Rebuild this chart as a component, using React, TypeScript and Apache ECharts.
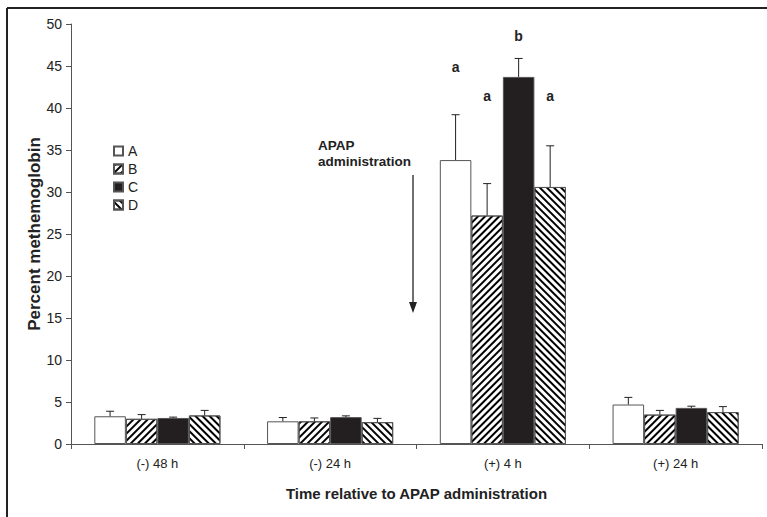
import React, { useEffect, useRef } from 'react';
import * as echarts from 'echarts';

const categories = ['(-) 48 h', '(-) 24 h', '(+) 4 h', '(+) 24 h'];
const seriesNames = ['A', 'B', 'C', 'D'];
const valuesA = [3.3, 2.7, 33.8, 4.7];
const valuesB = [3.0, 2.7, 27.2, 3.5];
const valuesC = [3.1, 3.2, 43.7, 4.3];
const valuesD = [3.4, 2.6, 30.6, 3.8];
const errA = [0.6, 0.45, 5.4, 0.85];
const errB = [0.5, 0.4, 3.8, 0.5];
const errC = [0.1, 0.15, 2.2, 0.2];
const errD = [0.6, 0.45, 4.9, 0.65];
// significance letters for the (+) 4 h group, with the value height at which they sit
const letterCategory = 2;
const letters = ['a', 'a', 'b', 'a'];
const letterValues = [44.9, 41.4, 48.6, 41.4];
const yTicks = { min: 0, max: 50, interval: 5 };

const FONT = '"Liberation Sans", Arial, sans-serif';
const CATEGORY_GAP = 0.27;

export default function App() {
  const ref = useRef<HTMLDivElement>(null);
  useEffect(() => {
    if (!ref.current) return;
    const chart = echarts.init(ref.current, null, { renderer: 'svg' });
    const values = [valuesA, valuesB, valuesC, valuesD];
    const errs = [errA, errB, errC, errD];
    const stripe = (rot: number) => ({
      symbol: 'rect',
      symbolSize: 1,
      dashArrayX: [[1, 0]],
      dashArrayY: [2, 3],
      rotation: rot,
      color: '#000',
      backgroundColor: '#fff',
    });
    const styles: any[] = [
      { color: '#fff', borderColor: '#555', borderWidth: 1 },
      { color: '#fff', borderColor: '#555', borderWidth: 1, decal: stripe(-Math.PI / 4) },
      { color: '#231f20', borderColor: '#555', borderWidth: 1 },
      { color: '#fff', borderColor: '#555', borderWidth: 1, decal: stripe(Math.PI / 4) },
    ];
    const barSeries = seriesNames.map((name, i) => ({
      name,
      type: 'bar',
      data: values[i],
      barGap: '0%',
      barCategoryGap: CATEGORY_GAP * 100 + '%',
      itemStyle: styles[i],
      z: 2,
    }));
    const errData: any[] = [];
    values.forEach((vals, s) => {
      vals.forEach((v, c) => {
        errData.push([c, v, v + errs[s][c], s]);
      });
    });
    const errSeries = {
      type: 'custom',
      name: 'err',
      data: errData,
      z: 5,
      renderItem: (params: any, api: any) => {
        const c = api.value(0);
        const lo = api.value(1);
        const hi = api.value(2);
        const s = api.value(3);
        const band = api.size([1, 0])[0];
        const group = band * (1 - CATEGORY_GAP);
        const bw = group / 4;
        const base = api.coord([c, lo]);
        const top = api.coord([c, hi]);
        const x = base[0] - group / 2 + bw * (s + 0.5);
        const children: any[] = [
          { type: 'line', shape: { x1: x, y1: base[1], x2: x, y2: top[1] }, style: { stroke: '#222', lineWidth: 1 } },
          { type: 'line', shape: { x1: x - 4, y1: top[1], x2: x + 4, y2: top[1] }, style: { stroke: '#222', lineWidth: 1 } },
        ];
        if (c === letterCategory) {
          const lp = api.coord([c, letterValues[s]]);
          children.push({
            type: 'text',
            style: {
              text: letters[s], x, y: lp[1], align: 'center', verticalAlign: 'middle',
              font: 'bold 14px ' + FONT, fill: '#222',
            },
          });
        }
        return { type: 'group', children };
      },
    };
    chart.setOption({
      animation: false,
      textStyle: { fontFamily: FONT },
      grid: { left: 71, right: 5, top: 24, bottom: 73, containLabel: false },
      legend: {
        data: seriesNames,
        orient: 'vertical',
        left: 113,
        top: 143,
        padding: 0,
        itemWidth: 9,
        itemHeight: 9,
        itemGap: 2,
        icon: 'rect',
        textStyle: { fontSize: 14, color: '#222', fontFamily: FONT, lineHeight: 16 },
      },
      xAxis: {
        type: 'category',
        data: categories,
        name: 'Time relative to APAP administration',
        nameLocation: 'middle',
        nameGap: 42,
        nameTextStyle: { fontWeight: 'bold', fontSize: 15, color: '#222', fontFamily: FONT },
        axisLine: { lineStyle: { color: '#555' } },
        axisTick: { show: true, length: 5, lineStyle: { color: '#555' } },
        axisLabel: { fontSize: 13, color: '#222', margin: 13, fontFamily: FONT },
      },
      yAxis: {
        type: 'value',
        min: yTicks.min,
        max: yTicks.max,
        interval: yTicks.interval,
        name: 'Percent methemoglobin',
        nameLocation: 'middle',
        nameGap: 28,
        nameMoveOverlap: false,
        nameTextStyle: { fontWeight: 'bold', fontSize: 17, color: '#222', fontFamily: FONT },
        axisLine: { show: true, lineStyle: { color: '#555' } },
        axisTick: { show: true, length: 5, lineStyle: { color: '#555' } },
        axisLabel: { fontSize: 14, color: '#222', margin: 9, fontFamily: FONT },
        splitLine: { show: false },
      },
      graphic: [
        { type: 'line', shape: { x1: 7, y1: 8, x2: 7, y2: 517 }, style: { stroke: '#222', lineWidth: 2 } },
        { type: 'line', shape: { x1: 7, y1: 8, x2: 767, y2: 8 }, style: { stroke: '#222', lineWidth: 2 } },
        { type: 'text', x: 318, y: 145, style: { text: 'APAP', font: 'bold 13.5px ' + FONT, fill: '#222', verticalAlign: 'middle' } },
        { type: 'text', x: 318, y: 161, style: { text: 'administration', font: 'bold 13.5px ' + FONT, fill: '#222', verticalAlign: 'middle' } },
        { type: 'line', shape: { x1: 413, y1: 175, x2: 413, y2: 304 }, style: { stroke: '#222', lineWidth: 1.3 } },
        { type: 'polygon', shape: { points: [[409, 302], [417, 302], [413, 313]] }, style: { fill: '#222' } },
      ],
      series: [...barSeries, errSeries],
    });
    return () => chart.dispose();
  }, []);
  return <div ref={ref} style={{ width: 767, height: 517, position: 'absolute', left: 0, top: 0 }} />;
}
